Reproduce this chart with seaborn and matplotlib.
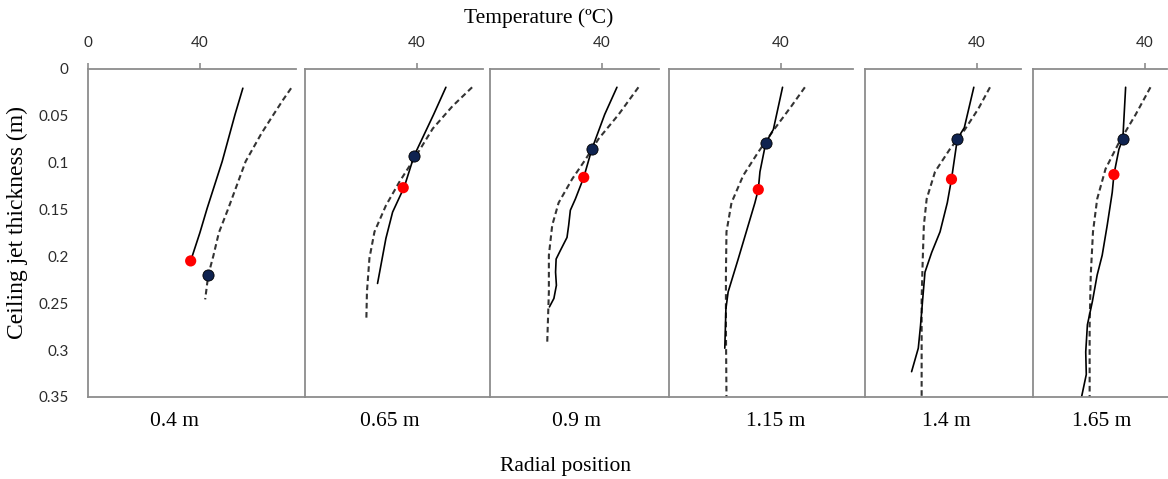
import matplotlib
matplotlib.use("Agg")
import matplotlib.pyplot as plt
import seaborn as sns

# radial positions, one panel each
positions = ["0.4 m", "0.65 m", "0.9 m", "1.15 m", "1.4 m", "1.65 m"]

# solid profiles: depth below ceiling (m) / temperature (ºC)
solid_z_04 = [0.021, 0.049, 0.099, 0.149, 0.175, 0.205]
solid_t_04 = [55.5, 52.7, 48.1, 42.7, 40.1, 36.8]
solid_z_065 = [0.020, 0.049, 0.093, 0.126, 0.153, 0.181, 0.229]
solid_t_065 = [50.5, 46.1, 39.1, 35.6, 31.4, 29.0, 26.0]
solid_z_09 = [0.020, 0.049, 0.086, 0.116, 0.139, 0.151, 0.167, 0.180, 0.194, 0.203, 0.217, 0.231, 0.245, 0.254]
solid_t_09 = [45.5, 41.1, 36.5, 33.6, 30.6, 28.8, 28.2, 27.6, 25.2, 23.7, 23.5, 23.8, 22.9, 21.3]
solid_z_115 = [0.020, 0.065, 0.079, 0.110, 0.129, 0.143, 0.173, 0.203, 0.238, 0.256, 0.298]
solid_t_115 = [40.7, 37.4, 34.7, 32.6, 32.0, 30.8, 27.8, 24.8, 21.2, 20.4, 20.0]
solid_z_14 = [0.020, 0.063, 0.075, 0.118, 0.143, 0.174, 0.196, 0.217, 0.245, 0.274, 0.298, 0.323]
solid_t_14 = [39.0, 35.6, 33.1, 31.0, 29.5, 26.9, 23.9, 21.5, 20.7, 19.9, 19.1, 16.7]
solid_z_165 = [0.020, 0.075, 0.086, 0.113, 0.132, 0.167, 0.199, 0.220, 0.248, 0.273, 0.302, 0.326, 0.350]
solid_t_165 = [33.2, 32.2, 30.8, 29.0, 28.4, 26.6, 24.8, 23.0, 21.3, 19.5, 18.9, 19.1, 17.4]

# dashed profiles
dash_z_04 = [0.021, 0.033, 0.049, 0.069, 0.099, 0.149, 0.175, 0.200, 0.220, 0.246]
dash_t_04 = [72.8, 70.0, 66.5, 62.2, 56.5, 50.3, 46.9, 44.9, 43.1, 42.0]
dash_z_065 = [0.020, 0.040, 0.064, 0.093, 0.121, 0.146, 0.174, 0.202, 0.238, 0.266]
dash_t_065 = [59.9, 52.9, 45.8, 39.8, 33.8, 29.0, 24.9, 23.1, 22.2, 22.0]
dash_z_09 = [0.020, 0.049, 0.075, 0.097, 0.118, 0.143, 0.167, 0.199, 0.238, 0.293]
dash_t_09 = [53.2, 46.1, 38.9, 34.2, 29.4, 24.6, 22.3, 21.1, 21.1, 20.5]
dash_z_115 = [0.020, 0.040, 0.066, 0.089, 0.114, 0.143, 0.174, 0.220, 0.274, 0.350]
dash_t_115 = [48.7, 43.9, 37.4, 32.0, 26.6, 22.4, 20.6, 20.4, 20.4, 20.6]
dash_z_14 = [0.020, 0.043, 0.065, 0.086, 0.110, 0.139, 0.167, 0.203, 0.245, 0.291, 0.350]
dash_t_14 = [44.8, 40.6, 35.8, 30.4, 25.1, 22.1, 21.1, 20.7, 20.3, 20.3, 20.3]
dash_z_165 = [0.020, 0.049, 0.079, 0.107, 0.139, 0.174, 0.220, 0.274, 0.350]
dash_t_165 = [42.1, 36.8, 30.8, 26.0, 23.0, 21.5, 20.7, 20.3, 20.3]

# marked points per panel
navy_t = [43.1, 39.1, 36.5, 34.7, 33.1, 32.2]
navy_z = [0.220, 0.093, 0.086, 0.079, 0.075, 0.075]
red_t = [36.8, 35.2, 33.6, 32.0, 31.0, 29.0]
red_z = [0.205, 0.127, 0.116, 0.129, 0.118, 0.113]

depth_ticks = [0, 0.05, 0.1, 0.15, 0.2, 0.25, 0.3, 0.35]
depth_labels = ["0", "0.05", "0.1", "0.15", "0.2", "0.25", "0.3", "0.35"]

solids = [(solid_t_04, solid_z_04), (solid_t_065, solid_z_065), (solid_t_09, solid_z_09),
          (solid_t_115, solid_z_115), (solid_t_14, solid_z_14), (solid_t_165, solid_z_165)]
dashes = [(dash_t_04, dash_z_04), (dash_t_065, dash_z_065), (dash_t_09, dash_z_09),
          (dash_t_115, dash_z_115), (dash_t_14, dash_z_14), (dash_t_165, dash_z_165)]

sns.set_style("white")
plt.rcParams["font.family"] = ["Lato", "DejaVu Sans"]

# layout in pixels (figure 1168 x 479)
W, H = 1168, 479
panel_px = [217, 185, 179, 196, 168, 135]
px_per_deg = 2.79
top_gap = [9, 7, 10, 12, 12, 1]
label_px = [175, 390, 576, 776, 946, 1102]
grey = "#8c8c8c"
tick_col = "#2b2b2b"
serif = ["Liberation Serif", "DejaVu Serif"]

fig = plt.figure(figsize=(W / 100, H / 100), dpi=100)
gs = fig.add_gridspec(1, 6, width_ratios=panel_px, left=88 / W, right=1.0,
                      top=1 - 68.5 / H, bottom=1 - 397 / H, wspace=0)

for i in range(6):
    ax = fig.add_subplot(gs[0, i])
    st, sz = solids[i]
    dt, dz = dashes[i]
    sns.lineplot(x=dt, y=dz, ax=ax, sort=False, estimator=None, color="#333333",
                 lw=1.5, ls=(0, (2.7, 1.7)))
    sns.lineplot(x=st, y=sz, ax=ax, sort=False, estimator=None, color="black", lw=1.2)
    sns.scatterplot(x=[navy_t[i]], y=[navy_z[i]], ax=ax, color="#0f2350", s=65,
                    edgecolor="#000000", linewidth=0.6, zorder=5)
    sns.scatterplot(x=[red_t[i]], y=[red_z[i]], ax=ax, color="#ff0000", s=65,
                    edgecolor="none", zorder=5)

    xmax = panel_px[i] / px_per_deg
    ax.set_xlim(0, xmax)
    ax.set_ylim(0.35, 0)
    ax.set_xlabel("")
    ax.set_ylabel("")

    ax.xaxis.tick_top()
    ax.set_xticks([0, 40] if i == 0 else [40])
    ax.set_yticks(depth_ticks)
    if i == 0:
        ax.set_yticklabels(depth_labels)
    else:
        ax.set_yticklabels([])
    ax.tick_params(axis="x", direction="out", length=4, width=1.2, color=grey,
                   labelsize=11, labelcolor=tick_col, pad=9)
    ax.tick_params(axis="y", direction="out", length=6, width=1.2, color=grey,
                   labelsize=11, labelcolor=tick_col, pad=8)

    for side in ["left", "top", "bottom"]:
        ax.spines[side].set_visible(True)
        ax.spines[side].set_color(grey)
        ax.spines[side].set_linewidth(1.3)
    ax.spines["right"].set_visible(False)
    ax.spines["top"].set_bounds(0, xmax - top_gap[i] / px_per_deg)

    fig.text(label_px[i] / W, 1 - 421 / H, positions[i], ha="center", va="center",
             family=serif, size=15.5, color="black")

fig.text(539 / W, 1 - 18 / H, "Temperature (ºC)", ha="center", va="center",
         family=serif, size=15.5, color="black")
fig.text(565 / W, 1 - 466 / H, "Radial position", ha="center", va="center",
         family=serif, size=15.5, color="black")
fig.text(17 / W, 1 - 222 / H, "Ceiling jet thickness (m)", ha="center", va="center",
         rotation=90, family=serif, size=17, color="black")

fig.savefig("out.png", dpi=100)
